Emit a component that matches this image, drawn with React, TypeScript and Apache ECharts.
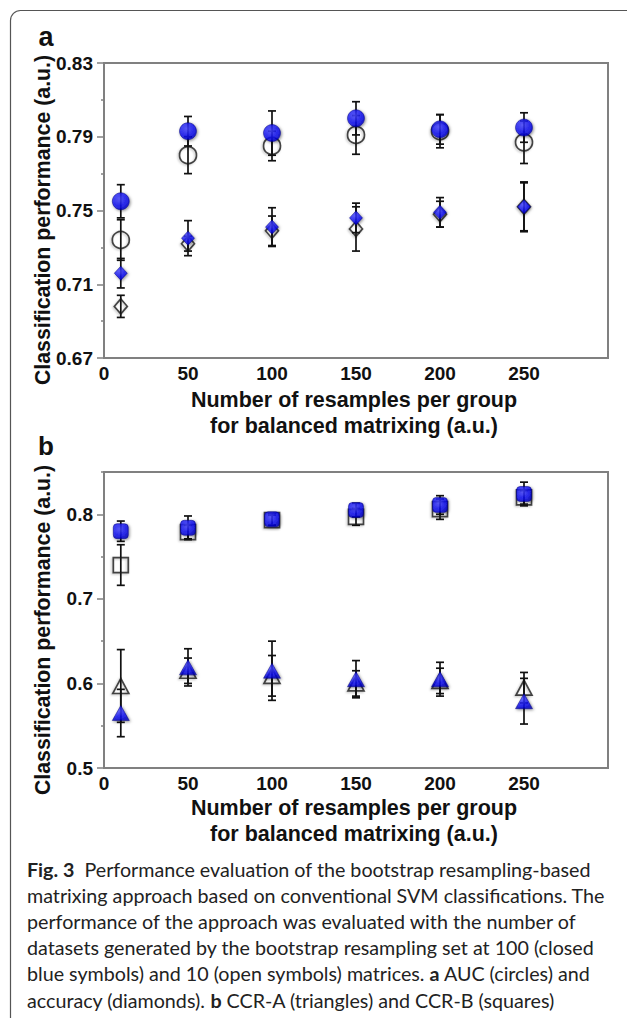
import React, { useEffect, useRef } from "react";
import * as echarts from "echarts";

const xValues = [10, 50, 100, 150, 200, 250];

// Panel a: AUC (circles) and accuracy (diamonds)
const aucClosed = [0.755, 0.793, 0.792, 0.8, 0.794, 0.795];
const aucClosedErr = [0.009, 0.008, 0.012, 0.009, 0.008, 0.008];
const aucOpen = [0.734, 0.78, 0.785, 0.791, 0.793, 0.787];
const aucOpenErr = [0.011, 0.01, 0.008, 0.0105, 0.009, 0.0115];
const accClosed = [0.716, 0.735, 0.741, 0.746, 0.749, 0.752];
const accClosedErr = [0.008, 0.0095, 0.0105, 0.008, 0.008, 0.0135];
const accOpen = [0.698, 0.732, 0.739, 0.74, 0.748, 0.752];
const accOpenErr = [0.006, 0.004, 0.008, 0.012, 0.007, 0.013];

// Panel b: CCR-A (triangles) and CCR-B (squares)
const ccrbClosed = [0.78, 0.784, 0.794, 0.805, 0.811, 0.824];
const ccrbClosedErr = [0.012, 0.014, 0.007, 0.008, 0.011, 0.014];
const ccrbOpen = [0.74, 0.779, 0.793, 0.797, 0.806, 0.82];
const ccrbOpenErr = [0.024, 0.008, 0.006, 0.01, 0.012, 0.008];
const ccraClosed = [0.565, 0.619, 0.615, 0.605, 0.605, 0.579];
const ccraClosedErr = [0.028, 0.022, 0.035, 0.022, 0.02, 0.027];
const ccraOpen = [0.597, 0.615, 0.609, 0.6, 0.603, 0.595];
const ccraOpenErr = [0.043, 0.015, 0.024, 0.015, 0.015, 0.018];

const xTicks = [0, 50, 100, 150, 200, 250];
const aMajor = [0.67, 0.71, 0.75, 0.79, 0.83];
const aMinor = [0.69, 0.73, 0.77, 0.81];
const bMajor = [0.5, 0.6, 0.7, 0.8];
const bMinor = [0.55, 0.65, 0.75, 0.85];

const yTitle = "Classification performance (a.u.)";
const xTitle1 = "Number of resamples per group";
const xTitle2 = "for balanced matrixing (a.u.)";
const captionLines = [
  "{b|Fig. 3}  Performance evaluation of the bootstrap resampling-based",
  "matrixing approach based on conventional SVM classifications. The",
  "performance of the approach was evaluated with the number of",
  "datasets generated by the bootstrap resampling set at 100 (closed",
  "blue symbols) and 10 (open symbols) matrices. {b|a} AUC (circles) and",
  "accuracy (diamonds). {b|b} CCR-A (triangles) and CCR-B (squares)",
];

const AX = "'Liberation Sans', Arial, sans-serif";
const CAP = "Lato, 'Open Sans', sans-serif";
const GRAY = "#808080";
const CAP_SIZE = 19.7;

export default function App() {
  const ref = useRef<HTMLDivElement>(null);
  useEffect(() => {
    if (!ref.current) return;
    const chart = echarts.init(ref.current, undefined, { renderer: "svg" });

    const blueFill = new echarts.graphic.RadialGradient(0.4, 0.35, 0.75, [
      { offset: 0, color: "#4848ff" },
      { offset: 0.6, color: "#0c0cf0" },
      { offset: 1, color: "#0000b8" },
    ]);

    const errData = (m: number[], e: number[]) =>
      xValues.map((x, i) => [x, m[i] - e[i], m[i] + e[i]]);
    const pts = (m: number[]) => xValues.map((x, i) => [x, m[i]]);

    const errSeries = (m: number[], e: number[], gi: number, z: number) => ({
      type: "custom",
      xAxisIndex: gi,
      yAxisIndex: gi * 2,
      z,
      silent: true,
      encode: { x: 0, y: [1, 2] },
      data: errData(m, e),
      renderItem: (_p: any, api: any) => {
        const x = api.value(0);
        const hi = api.coord([x, api.value(2)]);
        const lo = api.coord([x, api.value(1)]);
        const w = 4;
        const st = { stroke: "#111", lineWidth: 1.7 };
        return {
          type: "group",
          children: [
            { type: "line", shape: { x1: hi[0], y1: hi[1], x2: lo[0], y2: lo[1] }, style: st },
            { type: "line", shape: { x1: hi[0] - w, y1: hi[1], x2: hi[0] + w, y2: hi[1] }, style: st },
            { type: "line", shape: { x1: lo[0] - w, y1: lo[1], x2: lo[0] + w, y2: lo[1] }, style: st },
          ],
        };
      },
    });

    const closedStyle = {
      color: blueFill,
      borderColor: "#00007a",
      borderWidth: 0.6,
      shadowColor: "rgba(0,0,0,0.55)",
      shadowBlur: 3,
      shadowOffsetX: 1,
      shadowOffsetY: 1,
    };
    const openStyle = {
      color: "rgba(255,255,255,0)",
      borderColor: "#1a1a1a",
      borderWidth: 1.7,
      shadowColor: "rgba(0,0,0,0.3)",
      shadowBlur: 2,
      shadowOffsetX: -1,
      shadowOffsetY: 1,
    };
    const scat = (m: number[], gi: number, symbol: string, size: any, closed: boolean, z: number) => ({
      type: "scatter",
      xAxisIndex: gi,
      yAxisIndex: gi * 2,
      z,
      symbol,
      symbolSize: size,
      data: pts(m),
      itemStyle: closed ? closedStyle : openStyle,
      emphasis: { disabled: true },
    });

    const xAxisCfg = (gi: number) => ({
      type: "value",
      gridIndex: gi,
      min: 0,
      max: 300,
      interval: 50,
      axisLine: { show: true, lineStyle: { color: GRAY, width: 2 } },
      axisTick: { show: false },
      splitLine: { show: false },
      axisLabel: {
        customValues: xTicks,
        margin: 6,
        color: "#111",
        fontFamily: AX,
        fontWeight: "bold",
        fontSize: 19,
      },
    });
    const yMajorCfg = (gi: number, min: number, max: number, major: number[], dec: number) => ({
      type: "value",
      gridIndex: gi,
      min,
      max,
      axisLine: { show: true, lineStyle: { color: GRAY, width: 2 } },
      axisTick: { show: true, customValues: major, length: 7, lineStyle: { color: GRAY, width: 1.5 } },
      splitLine: { show: false },
      axisLabel: {
        customValues: major,
        margin: 11,
        formatter: (v: number) => v.toFixed(dec),
        color: "#111",
        fontFamily: AX,
        fontWeight: "bold",
        fontSize: 19,
      },
    });
    const yMinorCfg = (gi: number, min: number, max: number, minor: number[]) => ({
      type: "value",
      gridIndex: gi,
      min,
      max,
      position: "left",
      axisLine: { show: false },
      axisTick: { show: true, customValues: minor, length: 3, lineStyle: { color: GRAY, width: 1.5 } },
      axisLabel: { show: false },
      splitLine: { show: false },
    });

    const txt = (text: string, x: number, y: number, size: number, extra: any = {}) => ({
      type: "text",
      x,
      y,
      silent: true,
      style: {
        text,
        fill: "#111",
        font: `bold ${size}px ${AX}`,
        align: "center",
        verticalAlign: "middle",
        ...extra,
      },
    });

    const graphic: any[] = [
      {
        type: "rect",
        shape: { x: 10.5, y: 10.5, width: 700, height: 1100, r: 10 },
        style: { fill: "none", stroke: "#555", lineWidth: 1.2 },
        silent: true,
      },
      txt("a", 46, 37, 27),
      txt("b", 46, 446, 26),
      { ...txt(yTitle, 43, 220, 21.3), rotation: Math.PI / 2 },
      { ...txt(yTitle, 43, 630, 21.3), rotation: Math.PI / 2 },
      txt(xTitle1, 354, 400, 21.5),
      txt(xTitle2, 354, 426, 21.5),
      txt(xTitle1, 354, 808, 21.5),
      txt(xTitle2, 354, 834, 21.5),
    ];
    captionLines.forEach((line, i) => {
      graphic.push({
        type: "text",
        x: 27,
        y: 869 + i * 26.2,
        silent: true,
        style: {
          text: line,
          fill: "#222",
          fontFamily: CAP,
          fontSize: CAP_SIZE,
          align: "left",
          verticalAlign: "middle",
          rich: { b: { fontFamily: CAP, fontSize: CAP_SIZE, fontWeight: "bold", fill: "#222" } },
        },
      });
    });

    chart.setOption({
      animation: false,
      grid: [
        { left: 104, top: 63, right: 19, height: 295, show: true, borderColor: GRAY, borderWidth: 2, backgroundColor: "#fff" },
        { left: 104, top: 472, right: 19, height: 296, show: true, borderColor: GRAY, borderWidth: 2, backgroundColor: "#fff" },
      ],
      xAxis: [xAxisCfg(0), xAxisCfg(1)],
      yAxis: [
        yMajorCfg(0, 0.67, 0.83, aMajor, 2),
        yMinorCfg(0, 0.67, 0.83, aMinor),
        yMajorCfg(1, 0.5, 0.85, bMajor, 1),
        yMinorCfg(1, 0.5, 0.85, bMinor),
      ],
      graphic,
      series: [
        errSeries(aucOpen, aucOpenErr, 0, 3),
        errSeries(accOpen, accOpenErr, 0, 3),
        scat(aucOpen, 0, "circle", 17, false, 4),
        scat(accOpen, 0, "diamond", [13, 15], false, 4),
        errSeries(aucClosed, aucClosedErr, 0, 5),
        errSeries(accClosed, accClosedErr, 0, 5),
        scat(aucClosed, 0, "circle", 17, true, 6),
        scat(accClosed, 0, "diamond", [13, 14], true, 6),

        errSeries(ccrbOpen, ccrbOpenErr, 1, 3),
        errSeries(ccraOpen, ccraOpenErr, 1, 3),
        scat(ccrbOpen, 1, "rect", [15, 15], false, 4),
        scat(ccraOpen, 1, "triangle", [16, 15], false, 4),
        errSeries(ccrbClosed, ccrbClosedErr, 1, 5),
        errSeries(ccraClosed, ccraClosedErr, 1, 5),
        scat(ccrbClosed, 1, "roundRect", [15, 15], true, 6),
        scat(ccraClosed, 1, "triangle", [17, 15], true, 6),
      ],
    });
    return () => chart.dispose();
  }, []);

  return (
    <div
      ref={ref}
      style={{ position: "absolute", left: 0, top: 0, width: 627, height: 1018, background: "#fff" }}
    />
  );
}
